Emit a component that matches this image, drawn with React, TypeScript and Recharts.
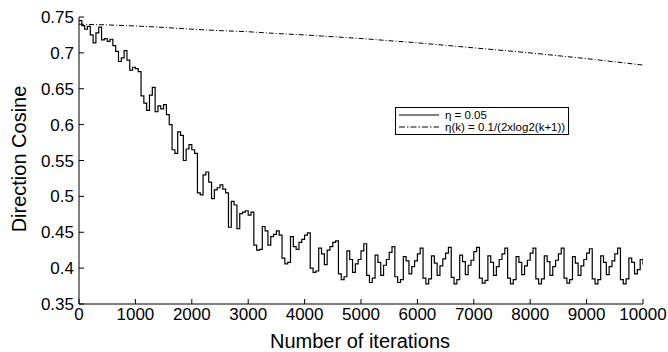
import { CartesianGrid, Label, Legend, Line, LineChart, XAxis, YAxis } from 'recharts';

// eta = 0.05, sampled every 50 iterations from 0 to 10000
const SAMPLE_STEP = 50;
const fixedRate = [
  0.745, 0.738, 0.733, 0.737, 0.725, 0.714, 0.728, 0.736, 0.718, 0.72,
  0.716, 0.719, 0.71, 0.702, 0.688, 0.693, 0.703, 0.69, 0.676, 0.68,
  0.678, 0.674, 0.64, 0.63, 0.62, 0.641, 0.652, 0.618, 0.626, 0.622,
  0.628, 0.614, 0.6, 0.565, 0.56, 0.59, 0.585, 0.55, 0.566, 0.572,
  0.565, 0.56, 0.505, 0.502, 0.53, 0.534, 0.52, 0.497, 0.509, 0.512,
  0.516, 0.51, 0.505, 0.457, 0.493, 0.488, 0.455, 0.476, 0.478, 0.48,
  0.474, 0.478, 0.432, 0.425, 0.426, 0.458, 0.452, 0.432, 0.444, 0.447,
  0.452, 0.446, 0.414, 0.406, 0.408, 0.444, 0.43, 0.426, 0.436, 0.44,
  0.446, 0.449, 0.4, 0.394, 0.396, 0.428, 0.42, 0.405, 0.425, 0.43,
  0.436, 0.438, 0.392, 0.384, 0.388, 0.424, 0.412, 0.394, 0.406, 0.412,
  0.424, 0.434, 0.39, 0.38, 0.386, 0.418, 0.408, 0.39, 0.404, 0.412,
  0.422, 0.43, 0.388, 0.38, 0.384, 0.416, 0.41, 0.392, 0.402, 0.41,
  0.42, 0.428, 0.386, 0.378, 0.385, 0.417, 0.407, 0.39, 0.403, 0.413,
  0.421, 0.429, 0.387, 0.378, 0.384, 0.418, 0.409, 0.391, 0.404, 0.411,
  0.423, 0.429, 0.386, 0.379, 0.383, 0.417, 0.408, 0.39, 0.402, 0.412,
  0.42, 0.428, 0.386, 0.378, 0.384, 0.416, 0.408, 0.391, 0.403, 0.411,
  0.421, 0.428, 0.385, 0.378, 0.385, 0.417, 0.409, 0.39, 0.402, 0.411,
  0.42, 0.428, 0.386, 0.379, 0.384, 0.416, 0.407, 0.39, 0.403, 0.412,
  0.421, 0.427, 0.385, 0.378, 0.384, 0.417, 0.408, 0.391, 0.402, 0.41,
  0.42, 0.428, 0.384, 0.378, 0.385, 0.414, 0.408, 0.392, 0.398, 0.412,
  0.405,
];

// eta(k) = 0.1/(2xlog2(k+1)), sampled every 500 iterations
const DECAY_STEP = 500;
const decayingRate = [
  0.74, 0.739, 0.7375, 0.7355, 0.733, 0.731, 0.7295, 0.727, 0.725, 0.7225,
  0.72, 0.717, 0.714, 0.7105, 0.707, 0.7035, 0.7, 0.696, 0.692, 0.6875,
  0.683,
];

const xTicks = [0, 1000, 2000, 3000, 4000, 5000, 6000, 7000, 8000, 9000, 10000];
const yTicks = [0.35, 0.4, 0.45, 0.5, 0.55, 0.6, 0.65, 0.7, 0.75];

const fixedData = fixedRate.map((v, i) => ({ k: i * SAMPLE_STEP, v }));
const decayData = decayingRate.map((v, i) => ({ k: i * DECAY_STEP, v }));

const FONT = '"Liberation Sans", Arial, Helvetica, sans-serif';
const DASH_DOT = '5 2 1 2';

const LegendBox = () => (
  <div
    style={{
      border: '1px solid #000',
      background: '#fff',
      fontFamily: FONT,
      fontSize: 11.5,
      lineHeight: '12px',
      padding: '1px 3px',
      color: '#000',
    }}
  >
    <div style={{ display: 'flex', alignItems: 'center' }}>
      <svg width={40} height={12}>
        <line x1={0} y1={6} x2={40} y2={6} stroke="#000" strokeWidth={1} />
      </svg>
      <span style={{ marginLeft: 6 }}>η = 0.05</span>
    </div>
    <div style={{ display: 'flex', alignItems: 'center' }}>
      <svg width={40} height={12}>
        <line x1={0} y1={6} x2={40} y2={6} stroke="#000" strokeWidth={1} strokeDasharray="6 2 1.5 2" />
      </svg>
      <span style={{ marginLeft: 6 }}>η(k) = 0.1/(2xlog2(k+1))</span>
    </div>
  </div>
);

const App = () => {
  const tickStyle = { fill: '#000', fontSize: 17, fontFamily: FONT };
  return (
    <div style={{ position: 'absolute', left: 0, top: 0, background: '#fff' }}>
      <LineChart width={668} height={352} margin={{ top: 17, right: 25, bottom: 18, left: 0 }}>
        <CartesianGrid stroke="none" />
        <XAxis
          xAxisId="b"
          type="number"
          dataKey="k"
          domain={[0, 10000]}
          ticks={xTicks}
          height={30}
          tickSize={-5}
          tickMargin={9}
          tick={tickStyle}
          stroke="#000"
          allowDataOverflow
        >
          <Label
            content={() => (
              <text x={360} y={348} textAnchor="middle" fontSize={20} fontFamily={FONT} fill="#000">
                Number of iterations
              </text>
            )}
          />
        </XAxis>
        <XAxis
          xAxisId="t"
          orientation="top"
          type="number"
          dataKey="k"
          domain={[0, 10000]}
          ticks={xTicks}
          height={0}
          tickSize={-5}
          tickFormatter={() => ''}
          stroke="#000"
        />
        <YAxis
          yAxisId="l"
          type="number"
          domain={[0.35, 0.75]}
          ticks={yTicks}
          width={79}
          tickSize={-5}
          tickMargin={10}
          tick={tickStyle}
          stroke="#000"
          allowDataOverflow
        >
          <Label
            content={() => (
              <text
                x={26}
                y={159}
                transform="rotate(-90 26 159)"
                textAnchor="middle"
                fontSize={20}
                fontFamily={FONT}
                fill="#000"
              >
                Direction Cosine
              </text>
            )}
          />
        </YAxis>
        <YAxis
          yAxisId="r"
          orientation="right"
          type="number"
          domain={[0.35, 0.75]}
          ticks={yTicks}
          width={0}
          tickSize={-5}
          tickFormatter={() => ''}
          stroke="#000"
        />
        <Legend
          layout="horizontal"
          verticalAlign="middle"
          align="center"
          wrapperStyle={{ position: 'absolute', left: 395, top: 107, width: 'auto' }}
          content={() => <LegendBox />}
        />
        <Line
          xAxisId="b"
          yAxisId="l"
          data={decayData}
          dataKey="v"
          stroke="#000"
          strokeWidth={1}
          strokeDasharray={DASH_DOT}
          dot={false}
          isAnimationActive={false}
        />
        <Line
          xAxisId="b"
          yAxisId="l"
          type="stepAfter"
          data={fixedData}
          dataKey="v"
          stroke="#000"
          strokeWidth={1.2}
          dot={false}
          isAnimationActive={false}
        />
      </LineChart>
    </div>
  );
};

export default App;
